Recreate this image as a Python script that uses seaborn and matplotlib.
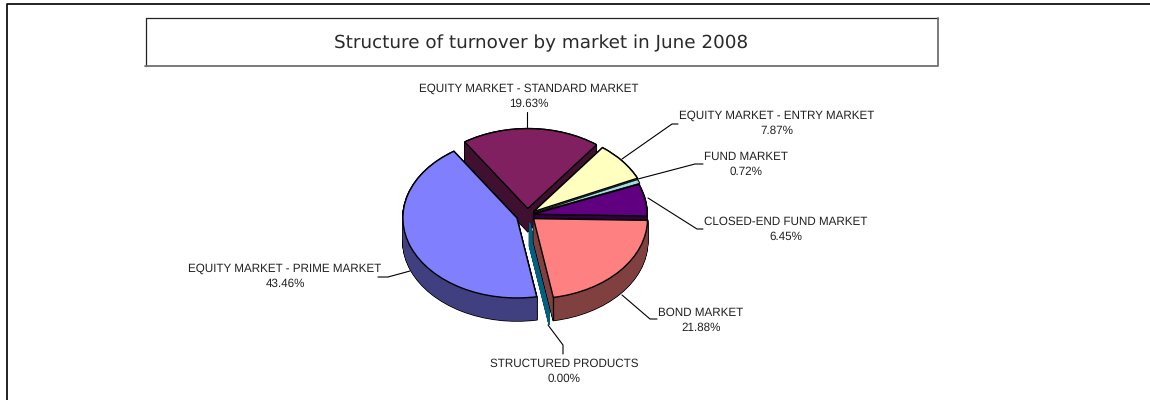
#!/usr/bin/env python3
"""Structure of turnover by market, drawn as an extruded, exploded pie."""

import math

import matplotlib.pyplot as plt
import seaborn as sns

sns.set_theme(style="white")
plt.rcParams['font.family'] = ['Liberation Sans', 'DejaVu Sans']
plt.rcParams['text.hinting'] = 'no_hinting'

markets = [
    'EQUITY MARKET - PRIME MARKET',
    'EQUITY MARKET - STANDARD MARKET',
    'EQUITY MARKET - ENTRY MARKET',
    'FUND MARKET',
    'CLOSED-END FUND MARKET',
    'BOND MARKET',
    'STRUCTURED PRODUCTS',
]
shares = [43.46, 19.63, 7.87, 0.72, 6.45, 21.88, 0.00]
top_colors = ['#8080FF', '#802060', '#FFFFC0', '#A0E0E0', '#600080', '#FF8080', '#006080']
side_colors = ['#404080', '#401030', '#808060', '#507070', '#300040', '#804040', '#006080']
explode = [0.10, 0.08, 0.07, 0.06, 0.05, 0.07, 0.10]
# back to front
draw_rank = [4, 0, 1, 2, 3, 6, 5]

# label centre x, first line y, leader line
label_x = [285, 529, 777, 746, 786, 701, 564]
label_y = [269, 89, 116, 157, 222, 313, 364]
leaders = [
    ([378, 388, 410], [277, 277, 271]),
    ([527, 527], [112, 127]),
    ([678, 672, 622], [124, 124, 159]),
    ([703, 695, 638], [164, 164, 179]),
    ([703, 697, 648], [229, 229, 198]),
    ([657, 650, 622], [319, 319, 295]),
    ([563, 563, 548], [354, 345, 325]),
]

# pie centre and radii on the page, pixels
cx, cy = 527.5, 215
rx, ry = 114, 80
depth = 23

fig = plt.figure(figsize=(11.5, 4), dpi=100)
ax = fig.add_axes([0, 0, 1, 1])


def draw_layer(shift, faces, edge, lw, order):
    wedges, _ = ax.pie(shares, colors=faces, explode=explode, startangle=-80,
                       counterclock=False, center=(0, -shift / ry),
                       wedgeprops={'edgecolor': edge, 'linewidth': lw})
    for i, w in enumerate(wedges):
        w.set_zorder(draw_rank[i] * 10 + order)
        # a 0% slice is only its edge, so the edge has to carry the colour
        if shares[i] == 0 and order > 0:
            w.set_edgecolor(side_colors[i])
            w.set_linewidth(1.0)
        # thin slice would disappear under a full outline
        elif shares[i] < 1 and order == 2:
            w.set_linewidth(0.4)
    return wedges


# black stack makes the outline, coloured stack the walls, then the top face
for s in range(0, depth * 2 + 1):
    draw_layer(s / 2, ['black'] * len(shares), 'black', 1.1, 0)
for s in range(0, depth * 2 + 1):
    draw_layer(s / 2, side_colors, 'none', 0, 1)
tops = draw_layer(0, top_colors, 'black', 1.0, 2)

# corner of the bond slice wall
bond = tops[markets.index('BOND MARKET')]
corner_x = bond.center[0] + math.cos(math.radians(bond.theta1))
corner_y = bond.center[1] + math.sin(math.radians(bond.theta1))
ax.plot([corner_x, corner_x], [corner_y, corner_y - depth / ry], color='black', lw=0.9,
        zorder=draw_rank[markets.index('BOND MARKET')] * 10 + 2)

ax.set_aspect('auto')
ax.set_xlim(-cx / rx, (1150 - cx) / rx)
ax.set_ylim(-(400 - cy) / ry, cy / ry)

# page layer in pixel coordinates: frame, title box, labels
page = fig.add_axes([0, 0, 1, 1], facecolor='none')
page.set_xlim(0, 1150)
page.set_ylim(400, 0)
page.axis('off')

page.plot([6.5, 6.5, 1150], [400, 3.5, 3.5], color='#111111', lw=1.3)
page.plot([145.5, 145.5, 938], [66, 18, 18], color='#222222', lw=0.9)
page.plot([145, 938, 938], [66, 66, 18], color='#707070', lw=1.3)
page.text(541.5, 43, 'Structure of turnover by market in June 2008', ha='center', va='center',
          fontsize=13.2, family='DejaVu Sans', color='#2a2a2a')

for name, share, x, y, (lx, ly) in zip(markets, shares, label_x, label_y, leaders):
    page.plot(lx, ly, color='black', lw=0.8)
    page.text(x, y, name, ha='center', va='center', fontsize=8.35, color='#222222')
    page.text(x, y + 15, f'{share:.2f}%', ha='center', va='center', fontsize=8.35, color='#222222')

fig.savefig('out.png', dpi=100)
